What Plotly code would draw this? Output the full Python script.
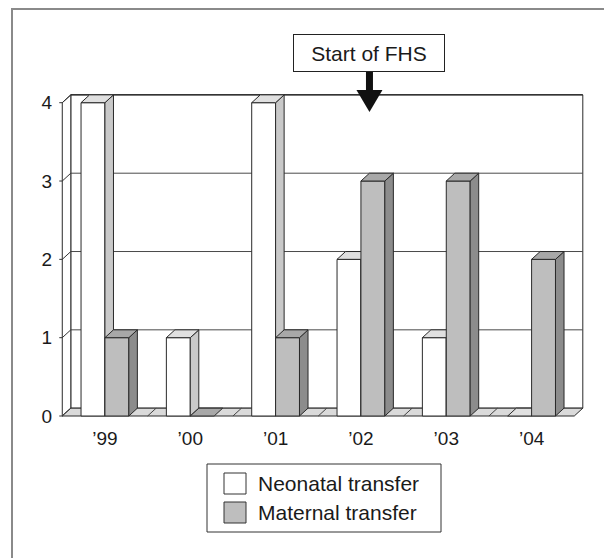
import plotly.graph_objects as go

# ---------------- data ----------------
years = ["\u201999", "\u201900", "\u201901", "\u201902", "\u201903", "\u201904"]
neonatal = [4, 1, 4, 2, 1, 0]
maternal = [1, 0, 1, 3, 3, 2]
series_names = ["Neonatal transfer", "Maternal transfer"]
y_ticks = [0, 1, 2, 3, 4]
annotation_text = "Start of FHS"
annotation_year_index = 3

# ---------------- style ----------------
FONT = "Liberation Sans, Arial, Helvetica, sans-serif"
TXT = "#1a1a1a"
EDGE = "#2a2a2a"
FRONT = ["#ffffff", "#bebebe"]
SIDE = ["#c9c9c9", "#8c8c8c"]
TOP = ["#e0e0e0", "#a8a8a8"]
FLOOR = "#dadada"

OFF = 8                     # browser body margin
W_PX, H_PX = 612 - OFF, 558 - OFF
L, R, T, B = 58 - OFF, 25, 91 - OFF, 137
PW, PH = W_PX - L - R, H_PX - T - B
KX = 512 / 6.0          # px per category unit
KY = (416 - 102.7) / 4  # px per value unit
X0 = -0.55
Y0 = -(421 - 416) / KY
XR = [X0, X0 + PW / KX]
YR = [Y0, Y0 + PH / KY]
DX, DY = 0.1, 0.1       # depth offsets in data units
BW = 0.28               # bar width
n = len(years)
xmin, xmax = -0.5, n - 0.5
ymax = max(y_ticks)


def pxx(px):
    return (px - OFF - L) / PW


def pxy(py):
    return (H_PX - B - (py - OFF)) / PH


fig = go.Figure()


def poly(xs, ys, fill, line=EDGE, width=1):
    fig.add_trace(go.Scatter(
        x=list(xs) + [xs[0]], y=list(ys) + [ys[0]], mode="lines", fill="toself",
        fillcolor=fill, line=dict(color=line, width=width),
        hoverinfo="skip", showlegend=False))


def seg(xs, ys, color=EDGE, width=1):
    fig.add_trace(go.Scatter(
        x=xs, y=ys, mode="lines", line=dict(color=color, width=width),
        hoverinfo="skip", showlegend=False))


# back wall
poly([xmin + DX, xmax + DX, xmax + DX, xmin + DX],
     [DY, DY, ymax + DY, ymax + DY], "#ffffff")
for v in y_ticks[1:-1]:
    seg([xmin + DX, xmax + DX], [v + DY, v + DY], color="#4a4a4a")
seg([xmin + DX, xmax + DX], [ymax + DY, ymax + DY], color="#111111")
# left wall
poly([xmin, xmin + DX, xmin + DX, xmin], [0, DY, ymax + DY, ymax], "#ffffff")
for v in y_ticks:
    seg([xmin - 0.035, xmin, xmin + DX], [v, v, v + DY], color="#333333")
# floor
poly([xmin, xmax, xmax + DX, xmin + DX], [0, 0, DY, DY], FLOOR)
for k in range(1, n):
    seg([k - 0.5, k - 0.5 + DX], [0, DY], color="#444444")

# bars, left to right
for i in range(n):
    for s, vals in enumerate([neonatal, maternal]):
        v = vals[i]
        x0 = i - BW if s == 0 else i
        x1 = x0 + BW
        if v > 0:
            poly([x0, x1, x1, x0], [0, 0, v, v], FRONT[s])
            poly([x1, x1 + DX, x1 + DX, x1], [0, DY, v + DY, v], SIDE[s])
        poly([x0, x1, x1 + DX, x0 + DX], [v, v, v + DY, v + DY], TOP[s])

shapes = []
# outer frame (top and left)
shapes.append(dict(type="line", xref="paper", yref="paper",
                   x0=pxx(12), x1=pxx(12), y0=pxy(9), y1=pxy(560),
                   line=dict(color="#8a8a8a", width=2)))
shapes.append(dict(type="line", xref="paper", yref="paper",
                   x0=pxx(11), x1=pxx(614), y0=pxy(9), y1=pxy(9),
                   line=dict(color="#8a8a8a", width=2)))

# arrow for "Start of FHS"
ax = annotation_year_index + DX
ax_px = OFF + L + (ax - X0) * KX
shapes.append(dict(type="rect", xref="paper", yref="paper",
                   x0=pxx(ax_px - 3.5), x1=pxx(ax_px + 3.5), y0=pxy(72), y1=pxy(91),
                   fillcolor="#111111", line=dict(width=0)))
shapes.append(dict(type="path", xref="paper", yref="paper",
                   path="M {a},{b} L {c},{b} L {d},{e} Z".format(
                       a=pxx(ax_px - 13), b=pxy(90), c=pxx(ax_px + 13),
                       d=pxx(ax_px), e=pxy(112)),
                   fillcolor="#111111", line=dict(width=0)))

# legend box
shapes.append(dict(type="rect", xref="paper", yref="paper",
                   x0=pxx(207), x1=pxx(441), y0=pxy(532), y1=pxy(464),
                   line=dict(color="#333333", width=1), fillcolor="rgba(0,0,0,0)"))
legend_fill = [FRONT[0], FRONT[1]]
legend_y = [483.5, 512.5]
annotations = []
for s in range(2):
    shapes.append(dict(type="rect", xref="paper", yref="paper",
                       x0=pxx(224), x1=pxx(246),
                       y0=pxy(legend_y[s] + 10.5), y1=pxy(legend_y[s] - 10.5),
                       line=dict(color="#333333", width=1), fillcolor=legend_fill[s]))
    annotations.append(dict(xref="paper", yref="paper", x=pxx(256), y=pxy(legend_y[s]),
                            text=series_names[s], showarrow=False,
                            xanchor="left", yanchor="middle",
                            font=dict(family=FONT, size=21, color=TXT)))

annotations.append(dict(xref="paper", yref="paper", x=pxx(ax_px), y=pxy(53),
                        text=annotation_text, showarrow=False,
                        xanchor="center", yanchor="middle",
                        width=150, height=36, borderpad=0,
                        bordercolor="#222222", borderwidth=1, bgcolor="#ffffff",
                        font=dict(family=FONT, size=21, color=TXT)))

fig.update_layout(
    width=W_PX, height=H_PX,
    margin=dict(l=L, r=R, t=T, b=B, pad=0),
    paper_bgcolor="#ffffff", plot_bgcolor="#ffffff",
    showlegend=False,
    shapes=shapes, annotations=annotations,
    xaxis=dict(range=XR, tickvals=list(range(n)), ticktext=years,
               showgrid=False, zeroline=False, showline=False, ticks="",
               ticklabelstandoff=4,
               tickfont=dict(family=FONT, size=19, color=TXT), fixedrange=True),
    yaxis=dict(range=YR, tickvals=y_ticks, showgrid=False, zeroline=False,
               showline=False, ticks="", ticklabelstandoff=5,
               tickfont=dict(family=FONT, size=19, color=TXT), fixedrange=True),
)

fig.write_html("out.html")
